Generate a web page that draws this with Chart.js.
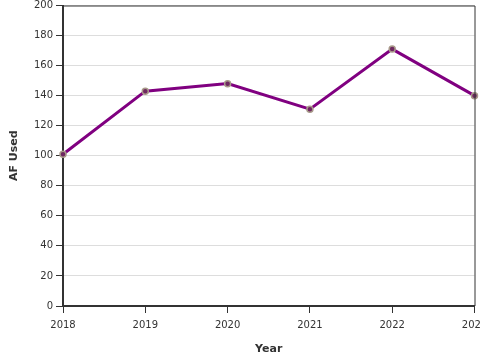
<!DOCTYPE html>
<html>
<head>
<meta charset="utf-8">
<script src="https://cdn.jsdelivr.net/npm/chart.js@4"></script>
<style>
  html, body { margin: 0; padding: 0; overflow: hidden; background: #fff; }
  #wrap { width: 480px; height: 360px; }
</style>
</head>
<body>
<div id="wrap"><canvas id="chart"></canvas></div>
<script>
const years = ['2018', '2019', '2020', '2021', '2022', '2023'];
const afUsed = [101, 143, 148, 131, 171, 140];
const yTicks = [0, 20, 40, 60, 80, 100, 120, 140, 160, 180, 200];

// top and right frame lines
const frame = {
  id: 'frame',
  afterDraw(chart) {
    const { ctx, chartArea: a } = chart;
    ctx.save();
    ctx.strokeStyle = '#333';
    ctx.lineWidth = 1;
    ctx.beginPath();
    ctx.moveTo(a.left, a.top + 0.5);
    ctx.lineTo(a.right + 0.5, a.top + 0.5);
    ctx.lineTo(a.right + 0.5, a.bottom);
    ctx.stroke();
    ctx.restore();
  }
};

Chart.defaults.font.family = 'DejaVu Sans';
Chart.defaults.color = '#333';

new Chart(document.getElementById('chart'), {
  type: 'line',
  data: {
    labels: years,
    datasets: [{
      data: afUsed,
      borderColor: '#800080',
      borderWidth: 3,
      tension: 0,
      pointRadius: 3,
      pointBackgroundColor: '#6e2860',
      pointBorderColor: '#a8998a',
      pointBorderWidth: 1.5
    }]
  },
  options: {
    responsive: true,
    maintainAspectRatio: false,
    animation: false,
    layout: { padding: 0 },
    plugins: { legend: { display: false }, tooltip: { enabled: false } },
    scales: {
      x: {
        offset: false,
        grid: { drawOnChartArea: false, tickLength: 7, tickColor: '#333' },
        border: { color: '#333', width: 2 },
        ticks: { font: { size: 10 }, padding: 6, maxRotation: 0 },
        title: { display: true, text: 'Year', font: { size: 11, weight: 'bold' }, padding: { top: 6 } },
        afterFit(s) { s.height = 54; s.paddingRight = 5; }
      },
      y: {
        min: 0,
        max: 200,
        afterBuildTicks(s) { s.ticks = yTicks.map(v => ({ value: v })); },
        grid: { color: '#ddd', tickLength: 7, tickColor: '#333' },
        border: { color: '#333', width: 2 },
        ticks: { font: { size: 10 }, padding: 3 },
        title: { display: true, text: 'AF Used', font: { size: 11, weight: 'bold' }, padding: { top: 8, bottom: 14 } },
        afterFit(s) { s.width = 63; s.paddingTop = 0; }
      }
    }
  },
  plugins: [frame]
});
</script>
</body>
</html>
